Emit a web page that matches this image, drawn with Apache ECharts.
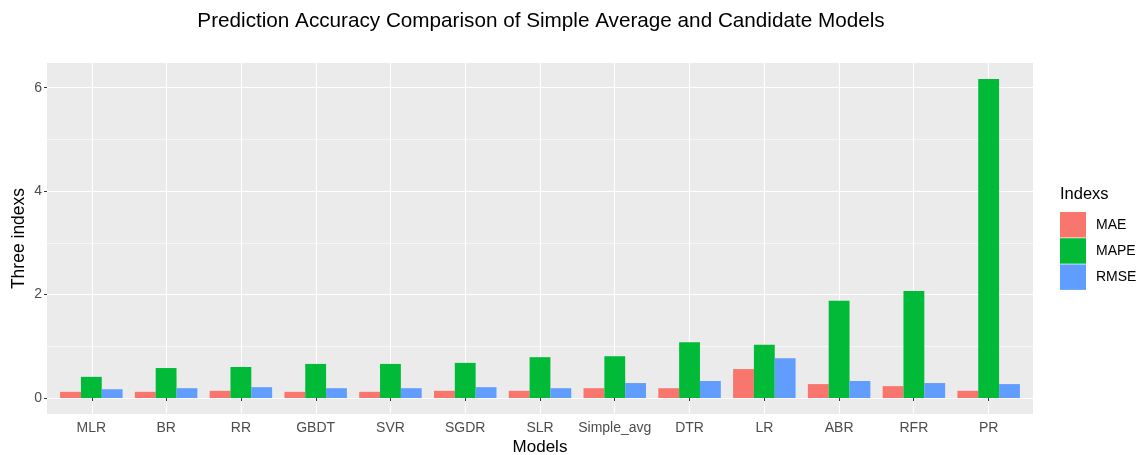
<!DOCTYPE html>
<html>
<head>
<meta charset="utf-8">
<script src="https://cdn.jsdelivr.net/npm/echarts@6/dist/echarts.min.js"></script>
<style>html,body{margin:0;padding:0;background:#fff;}#c{width:1144px;height:455px;}</style>
</head>
<body>
<div id="c"></div>
<script>
const models = ['MLR','BR','RR','GBDT','SVR','SGDR','SLR','Simple_avg','DTR','LR','ABR','RFR','PR'];
const mae  = [0.12,0.12,0.14,0.12,0.12,0.14,0.14,0.19,0.19,0.56,0.27,0.23,0.14];
const mape = [0.41,0.58,0.60,0.66,0.66,0.68,0.79,0.81,1.08,1.03,1.88,2.07,6.17];
const rmse = [0.17,0.19,0.21,0.19,0.19,0.21,0.19,0.29,0.33,0.77,0.33,0.29,0.27];
const yMajor = [0,2,4,6];
const yMinor = [1,3,5];
const seriesNames = ['MAE','MAPE','RMSE'];
const colors = ['#F8766D','#00BA38','#619CFF'];

const maxV = Math.max(...mae, ...mape, ...rmse);
const yMin = -0.05 * maxV, yMax = maxV * 1.05;
const n = models.length;
const xTicks = models.map((_, i) => i + 1);

const font = 'Liberation Sans, Arial, Helvetica, sans-serif';
const panel = {left: 47, right: 1144 - 1033, top: 63, bottom: 455 - 414};
const panelW = 1033 - 47;
const unit = panelW / (n + 1.2);

const chart = echarts.init(document.getElementById('c'), null, {renderer: 'canvas'});
const data = [mae, mape, rmse];
chart.setOption({
  animation: false,
  textStyle: {fontFamily: font},
  graphic: [
    {type: 'rect', z: -10, silent: true, shape: {x: 47, y: 63, width: panelW, height: 351}, style: {fill: '#EBEBEB'}},
    {type: 'text', x: 541, y: 21, style: {text: 'Prediction Accuracy Comparison of Simple Average and Candidate Models', fontSize: 20.7, fontFamily: font, fill: '#000', textAlign: 'center', textVerticalAlign: 'middle'}},
    {type: 'text', x: 1060, y: 194, style: {text: 'Indexs', fontSize: 16.5, fontFamily: font, fill: '#000', textAlign: 'left', textVerticalAlign: 'middle'}}
  ],
  grid: [
    {left: panel.left, right: panel.right, top: panel.top, bottom: panel.bottom, containLabel: false, outerBoundsMode: 'none'},
    {left: 47 + 0.1 * unit, right: panel.right + 0.1 * unit, top: panel.top, bottom: panel.bottom, containLabel: false, outerBoundsMode: 'none'}
  ],
  xAxis: [
    {type: 'value', gridIndex: 0, min: 0.4, max: n + 0.6,
     axisLine: {show: false},
     axisTick: {show: true, length: 3, lineStyle: {color: '#333', width: 1}, customValues: xTicks},
     axisLabel: {show: false, customValues: xTicks},
     splitLine: {show: true, lineStyle: {color: '#fff', width: 1.1}}},
    {type: 'category', gridIndex: 1, data: models,
     axisLine: {show: false, onZero: false}, axisTick: {show: false},
     axisLabel: {color: '#4D4D4D', fontSize: 14, margin: 7, interval: 0, fontFamily: font},
     splitLine: {show: false},
     name: 'Models', nameLocation: 'middle', nameGap: 25, nameMoveOverlap: false,
     nameTextStyle: {color: '#000', fontSize: 17, fontFamily: font}}
  ],
  yAxis: [
    {type: 'value', gridIndex: 0, min: yMin, max: yMax,
     axisLine: {show: false},
     axisTick: {show: true, length: 3, lineStyle: {color: '#333', width: 1}, customValues: yMajor},
     axisLabel: {color: '#4D4D4D', fontSize: 14, margin: 5, customValues: yMajor, fontFamily: font},
     splitLine: {show: true, lineStyle: {color: '#fff', width: 1.1}},
     name: 'Three indexs', nameLocation: 'middle', nameGap: 19, nameMoveOverlap: false,
     nameTextStyle: {color: '#000', fontSize: 17.5, fontFamily: font}},
    {type: 'value', gridIndex: 0, min: yMin, max: yMax,
     axisLine: {show: false},
     axisTick: {show: false, customValues: yMinor},
     axisLabel: {show: false, customValues: yMinor},
     splitLine: {show: true, lineStyle: {color: '#fff', width: 0.55}}},
    {type: 'value', gridIndex: 1, min: yMin, max: yMax,
     axisLine: {show: false}, axisTick: {show: false}, axisLabel: {show: false}, splitLine: {show: false}}
  ],
  legend: {
    orient: 'vertical', left: 1060, top: 212, padding: 0, itemWidth: 26, itemHeight: 25.5, itemGap: 0.7,
    icon: 'rect', data: seriesNames,
    textStyle: {fontSize: 14, color: '#000', fontFamily: font, padding: [0, 0, 0, 5]}
  },
  series: seriesNames.map((nm, k) => ({
    name: nm, type: 'bar', xAxisIndex: 1, yAxisIndex: 2,
    data: data[k], barWidth: 0.3 * unit, barGap: '0%',
    itemStyle: {color: colors[k]}
  }))
});
</script>
</body>
</html>
